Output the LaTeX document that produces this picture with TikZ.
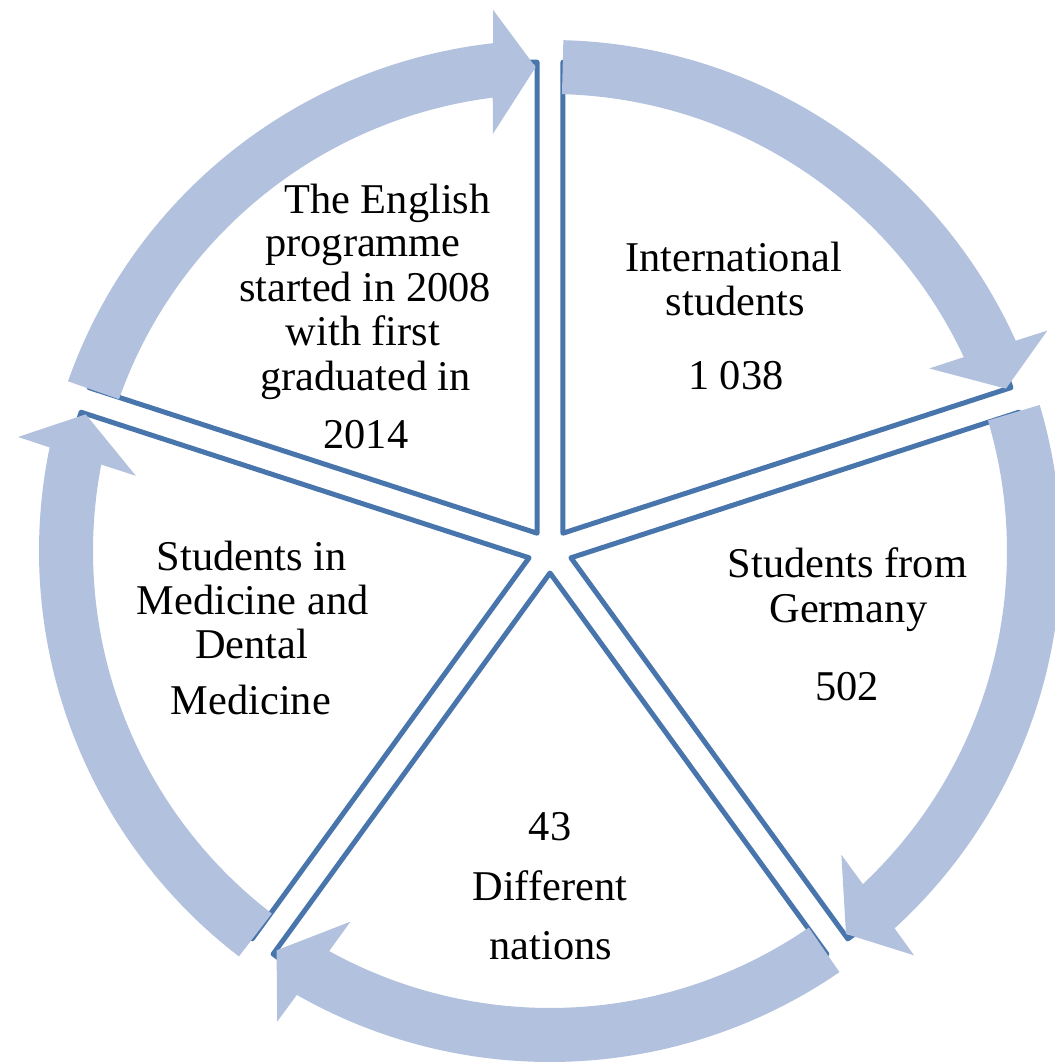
\documentclass[tikz,border=0pt]{standalone}
\usepackage{fontspec}
\setmainfont{Liberation Serif}
\definecolor{arrowblue}{RGB}{178,193,221}
\definecolor{lineblue}{RGB}{72,117,172}
\newcommand{\cycArrow}[1]{%
  \pgfmathsetmacro\cyA{#1}%
  \pgfmathsetmacro\cyNo{#1-64.2}%
  \pgfmathsetmacro\cyNi{#1-63.4}%
  \pgfmathsetmacro\cyHo{#1-64.6}%
  \pgfmathsetmacro\cyHi{#1-62.8}%
  \pgfmathsetmacro\cyT{#1-68.9}%
  \fill[arrowshape] (\cyA:457) -- (\cyA:511)
    arc[start angle=\cyA, end angle=\cyNo, radius=511]
    -- (\cyHo:544) -- (\cyT:484) -- (\cyHi:421) -- (\cyNi:457)
    arc[start angle=\cyNi, end angle=\cyA, radius=457] -- cycle;}
\newcommand{\cycSlice}[1]{%
  \pgfmathsetmacro\csA{#1-36}%
  \pgfmathsetmacro\csB{#1+36}%
  \draw[slice] (#1:22) -- ++(\csA:471)
    arc[start angle=\csA, end angle=\csB, radius=471] -- cycle;}
\begin{document}
\begin{tikzpicture}[x=1pt,y=-1pt,
  lbl/.style={anchor=base,inner sep=0pt,font=\fontsize{42.4}{44.3}\selectfont},
  slice/.style={draw=lineblue,fill=white,line width=5pt,line join=round,line cap=round},
  arrowshape/.style={fill=arrowblue}]
\fill[white] (0,0) rectangle (1054,1064);
\path[use as bounding box] (0,0) rectangle (1054,1064);
\begin{scope}[y=1pt, shift={(550,-551)}]
  \cycSlice{54}
  \cycSlice{-18}
  \cycSlice{-90}
  \cycSlice{-162}
  \cycSlice{126}
  \cycArrow{160.6}
  \cycArrow{88.5}
  \cycArrow{16.6}
  \cycArrow{-55.5}
  \cycArrow{-127.5}
\end{scope}
% top-left segment
\node[lbl] (tl1) at (387.5,213.3) {The English};
\node[lbl] (tl2) at (363,257) {programme};
\node[lbl] (tl3) at (365,301.7) {started in 2008};
\node[lbl] (tl4) at (363,345) {with first};
\node[lbl] (tl5) at (365.5,390) {graduated in};
\node[lbl] (tl6) at (365.8,448) {2014};
% top-right segment
\node[lbl] (tr1) at (733.5,271.7) {International};
\node[lbl] (tr2) at (735.3,315) {students};
\node[lbl] (tr3) at (735.8,389.5) {1 038};
% right segment
\node[lbl] (r1) at (847.5,577.5) {Students from};
\node[lbl] (r2) at (848.3,622) {Germany};
\node[lbl] (r3) at (847,700.5) {502};
% bottom segment
\node[lbl] (b1) at (550,840) {43};
\node[lbl] (b2) at (549.7,900) {Different};
\node[lbl] (b3) at (550.8,959.3) {nations};
% left segment
\node[lbl] (l1) at (251.7,570) {Students in};
\node[lbl] (l2) at (252.5,614) {Medicine and};
\node[lbl] (l3) at (251.7,658.3) {Dental};
\node[lbl] (l4) at (250.8,714.5) {Medicine};
\end{tikzpicture}
\end{document}
